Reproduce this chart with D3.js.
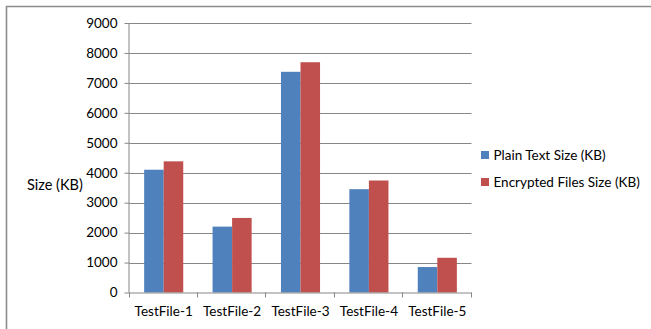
<!DOCTYPE html>
<html>
<head>
<meta charset="utf-8">
<script src="https://cdn.jsdelivr.net/npm/d3@7"></script>
<style>
  html, body { margin: 0; padding: 0; background: #fff; }
  svg { display: block; }
  text { font-family: Lato, "Open Sans", sans-serif; fill: #000; }
</style>
</head>
<body>
<svg id="chart" width="651" height="329"></svg>
<script>
// File sizes before and after encryption
const categories = ["TestFile-1", "TestFile-2", "TestFile-3", "TestFile-4", "TestFile-5"];
const plainSizes = [4100, 2200, 7370, 3450, 850];
const encryptedSizes = [4380, 2490, 7690, 3740, 1160];
const seriesNames = ["Plain Text Size (KB)", "Encrypted Files Size (KB)"];
const seriesColors = ["#4F81BD", "#C0504D"];
const yTicks = [0, 1000, 2000, 3000, 4000, 5000, 6000, 7000, 8000, 9000];

const svg = d3.select("#chart");
const plot = { left: 129.5, right: 471.5, top: 23, bottom: 292.5 };
const gridColor = "#878787";

// chart frame (left and top edges)
svg.append("path")
  .attr("d", "M6.5,329 V6.5 H651")
  .attr("fill", "none")
  .attr("stroke", "#8c8c8c")
  .attr("stroke-width", 1.6);

const x0 = d3.scaleBand().domain(categories).range([plot.left, plot.right]).paddingInner(0).paddingOuter(0);
const x1 = d3.scaleBand().domain([0, 1]).range([0, x0.bandwidth()]).paddingInner(0).paddingOuter(0.75);
const y = d3.scaleLinear().domain([0, 9000]).range([plot.bottom, plot.top]);

// horizontal gridlines
svg.append("g").selectAll("line")
  .data(yTicks.filter(t => t > 0))
  .join("line")
  .attr("x1", plot.left).attr("x2", plot.right)
  .attr("y1", d => Math.round(y(d)) + 0.5).attr("y2", d => Math.round(y(d)) + 0.5)
  .attr("stroke", gridColor).attr("stroke-width", 1);

// y axis
const yAxis = d3.axisLeft(y).tickValues(yTicks).tickSize(5).tickPadding(7).tickFormat(d3.format("d"));
const gy = svg.append("g").attr("transform", `translate(${plot.left},0)`).call(yAxis);
gy.select(".domain").attr("stroke", gridColor).attr("d", `M-0.5,${plot.top}V${plot.bottom}`);
gy.selectAll(".tick line").attr("stroke", gridColor);
gy.selectAll(".tick text").attr("font-size", 13.5).attr("font-family", "Lato, sans-serif").attr("fill", "#000");

// bars
const groups = svg.append("g").selectAll("g")
  .data(categories)
  .join("g")
  .attr("transform", d => `translate(${x0(d)},0)`);
groups.selectAll("rect")
  .data((d, i) => [plainSizes[i], encryptedSizes[i]])
  .join("rect")
  .attr("x", (d, j) => x1(j))
  .attr("width", x1.bandwidth())
  .attr("y", d => y(d))
  .attr("height", d => y(0) - y(d))
  .attr("fill", (d, j) => seriesColors[j]);

// x axis
const xAxis = d3.axisBottom(x0).tickSize(0).tickPadding(14);
const gx = svg.append("g").attr("transform", `translate(0,${plot.bottom})`).call(xAxis);
gx.select(".domain").attr("stroke", gridColor).attr("d", `M${plot.left},0.5H${plot.right}`);
gx.selectAll(".tick text").attr("font-size", 13.5).attr("font-family", "Lato, sans-serif").attr("fill", "#000");
// category boundary ticks
gx.append("g").selectAll("line")
  .data(categories.concat([null]))
  .join("line")
  .attr("x1", (d, i) => Math.round(plot.left + i * x0.step()) - 0.5)
  .attr("x2", (d, i) => Math.round(plot.left + i * x0.step()) - 0.5)
  .attr("y1", 0).attr("y2", 5)
  .attr("stroke", gridColor);

// y axis title
svg.append("text")
  .attr("x", 27).attr("y", 190)
  .attr("font-size", 14.5)
  .text("Size (KB)");

// legend
const legend = svg.append("g").selectAll("g")
  .data(seriesNames)
  .join("g")
  .attr("transform", (d, i) => `translate(481,${151 + i * 27})`);
legend.append("rect")
  .attr("width", 8).attr("height", 8)
  .attr("fill", (d, i) => seriesColors[i]);
legend.append("text")
  .attr("x", 12.5).attr("y", 8.5)
  .attr("font-size", 13.5)
  .text(d => d);
</script>
</body>
</html>
